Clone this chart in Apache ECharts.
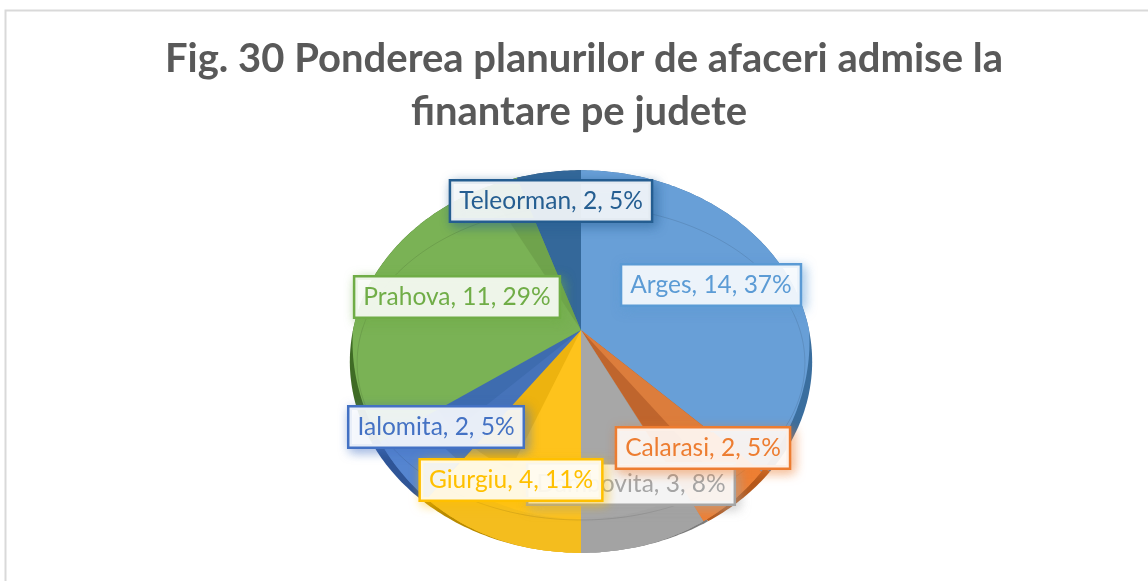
<!DOCTYPE html>
<html><head><meta charset="utf-8">
<style>html,body{margin:0;padding:0;background:#fff}#c{width:1148px;height:581px}</style>
<script src="https://cdn.jsdelivr.net/npm/echarts@6/dist/echarts.min.js"></script>
</head><body><div id="c"></div>
<script>
const titleLines = ["Fig. 30 Ponderea planurilor de afaceri admise la","finantare pe judete"];
const titleX = [579,574];
const titleY = [28,81];
const categories = ["Arges","Calarasi","Dambovita","Giurgiu","Ialomita","Prahova","Teleorman"];
const values = [14,2,3,4,2,11,2];
const colors = ["#5B9BD5","#ED7D31","#A5A5A5","#FFC000","#4472C4","#70AD47","#255E91"];
const surface = ["#689FD7","#DC7D3C","#A7A7A7","#FEC31C","#4673B9","#7AB255","#34689A"];
const wall = ["#3A6E9E","#B5591C","#7C7C7C","#B88A00","#2F5597","#3F6B25","#1B4468"];
const strip = ["none","#BF652D","none","#EDB30F","#3E6CAF","#6FA34C","none"];
const stripFrac = [0,0.5,0,0.4,0.55,0.09,0];
const stripLen = [0,0.86,0,0.72,0.72,0.88,0];
const bandColor = ["none","#EE8136","#A3A3A3","#F4BD1E","#5585D0","none","none"];
const bandFrom = [1,0.74,0.87,0.87,0.8,1,1];
const labelCenters = [[711,285],[703,448],[631,484],[511,480],[436,427],[457,297],[551,201]];
const labelOrder = [6,0,5,4,2,3,1];

const cx=581, cy=330, A=228, B=186, K=0.165, W=9;
const total = values.reduce((a,b)=>a+b,0);
const starts=[]; let acc=0;
values.forEach(v=>{starts.push(acc/total*360); acc+=v;});
function P(deg,r,inset){
  const t=deg*Math.PI/180, u=r*Math.sin(t), v=-r*Math.cos(t), d=1-K*v;
  let x=cx+A*u/d, y=cy+B*v/d;
  if(inset) x-=Math.sign(u)*W*Math.max(v,0)*u*u*2.6;
  return [x,y];
}
function arc(a,b,r,inset){
  const pts=[], n=Math.max(2,Math.ceil(Math.abs(b-a)));
  for(let i=0;i<=n;i++) pts.push(P(a+(b-a)*i/n,r,inset));
  return pts;
}
function sector(a,b,r,inset){ return [[cx,cy]].concat(arc(a,b,r,inset)); }
function span(i){ const a=starts[i]; return [a,a+values[i]/total*360]; }
function renderWall(params){
  const [a,b]=span(params.dataIndex);
  return {type:'polygon',shape:{points:sector(a,b,1,false)},style:{fill:wall[params.dataIndex]}};
}
function renderSlice(params){
  const i=params.dataIndex, [a,b]=span(i);
  const ch=[{type:'polygon',shape:{points:sector(a,b,1,true)},style:{fill:surface[i]}}];
  if(bandColor[i]!=='none'){
    ch.push({type:'polygon',shape:{points:arc(a,b,bandFrom[i],true).concat(arc(b,a,1,true))},style:{fill:bandColor[i]}});
  }
  if(stripFrac[i]>0){
    ch.push({type:'polygon',shape:{points:sector(b-(b-a)*stripFrac[i],b,stripLen[i],true)},style:{fill:strip[i]}});
  }
  return {type:'group',children:ch};
}
function renderRing(){
  const top=[],n=360;
  for(let i=0;i<=n;i++){
    const t=i*Math.PI/180;
    top.push([cx+A*0.982*Math.sin(t), cy+33-157*Math.cos(t)]);
  }
  return {type:'polyline',shape:{points:top},style:{fill:'none',stroke:'rgba(0,0,0,0.10)',lineWidth:1}};
}
function renderLabel(params){
  const i=labelOrder[params.dataIndex];
  const txt=categories[i]+", "+values[i]+", "+Math.round(values[i]/total*100)+"%";
  const c=labelCenters[i];
  return {type:'text',x:c[0],y:c[1],style:{
    text:txt,fill:colors[i],font:'24.5px Lato, "Open Sans", sans-serif',align:'center',verticalAlign:'middle',
    backgroundColor:'rgba(255,255,255,0.88)',borderColor:colors[i],borderWidth:2.5,
    padding:[7,8,7,8],shadowBlur:11,shadowColor:echarts.color.modifyAlpha(colors[i],0.55),shadowOffsetX:3,shadowOffsetY:3
  }};
}
const chart=echarts.init(document.getElementById('c'),null,{renderer:'canvas'});
chart.setOption({
  animation:false,backgroundColor:'#fff',
  title:titleLines.map((t,i)=>({text:t,left:titleX[i],top:titleY[i],textAlign:'center',
    textStyle:{fontFamily:'Lato, "Open Sans", sans-serif',fontWeight:'bold',fontSize:40,lineHeight:53,color:'#595959'}})),
  graphic:[{type:'polyline',silent:true,shape:{points:[[5.5,581],[5.5,10.5],[1148,10.5]]},style:{fill:'none',stroke:'#D9D9D9',lineWidth:2}}],
  series:[
    {type:'custom',coordinateSystem:'none',silent:true,z:1,data:values.map((v,i)=>({name:categories[i],value:v})),renderItem:renderWall},
    {type:'custom',coordinateSystem:'none',silent:true,z:2,data:values.map((v,i)=>({name:categories[i],value:v})),renderItem:renderSlice},
    {type:'custom',coordinateSystem:'none',silent:true,z:3,data:[0],renderItem:renderRing},
    {type:'custom',coordinateSystem:'none',silent:true,z:5,data:labelOrder.map(i=>values[i]),renderItem:renderLabel}
  ]
});
</script></body></html>
